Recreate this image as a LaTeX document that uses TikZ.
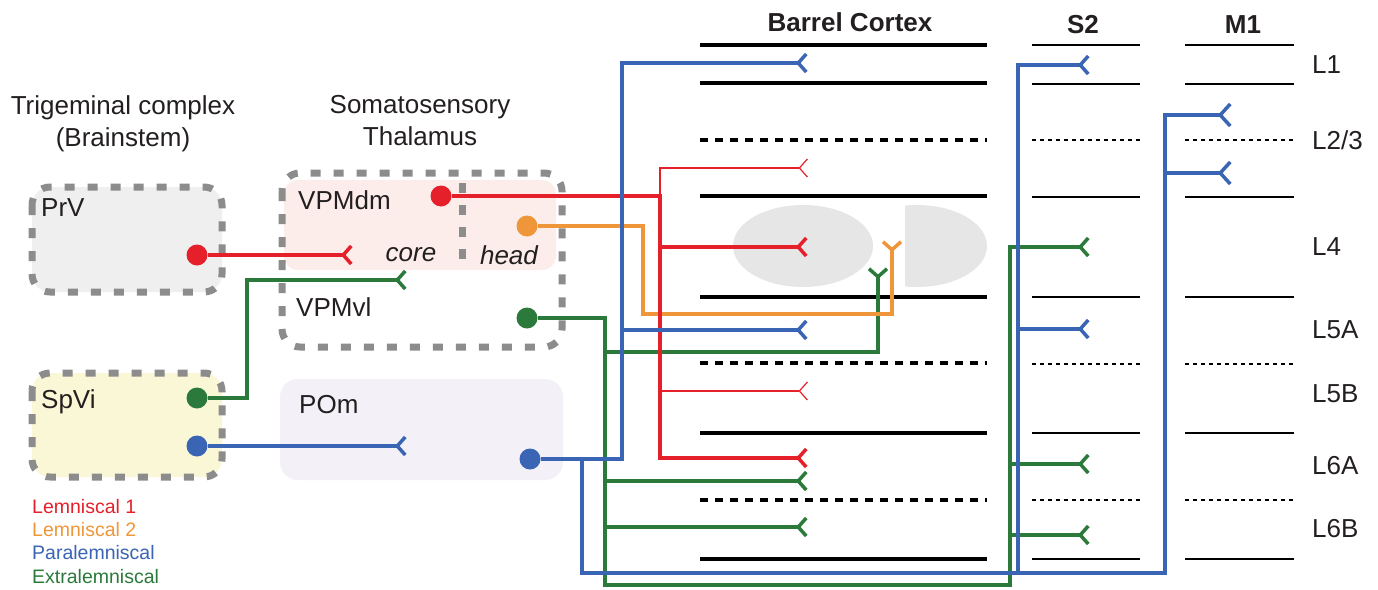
\documentclass[tikz,border=0pt]{standalone}
\usepackage{fontspec}
\setmainfont{Liberation Sans}
\usetikzlibrary{arrows.meta}
\definecolor{cred}{HTML}{E5202A}
\definecolor{corange}{HTML}{F0963A}
\definecolor{cblue}{HTML}{3A64B4}
\definecolor{cgreen}{HTML}{2B7A3B}
\definecolor{cborder}{HTML}{8C8C8C}
\definecolor{fprv}{HTML}{EFEFEF}
\definecolor{fspvi}{HTML}{FAF7D6}
\definecolor{fvpm}{HTML}{FCEDEB}
\definecolor{fpom}{HTML}{F3F1F7}
\definecolor{fbarrel}{HTML}{E6E6E6}
\definecolor{ctext}{HTML}{231F20}
\tikzset{
  lbl/.style={font=\fontsize{26}{32}\selectfont, inner sep=0pt, text=ctext},
  legend/.style={font=\fontsize{19.5}{22}\selectfont, inner sep=0pt, anchor=west},
  grpbox/.style={draw=cborder, line width=7pt, dash pattern=on 10pt off 13pt, rounded corners=18pt},
  axon/.style={line width=3.5pt},
  thinaxon/.style={line width=1.2pt},
  syn/.style={-{Straight Barb[reversed,length=8pt,width=18pt,line width=3.5pt]}},
  thinsyn/.style={-{Straight Barb[reversed,length=8pt,width=18pt,line width=1.2pt]}},
  synbig/.style={-{Straight Barb[reversed,length=10pt,width=22pt,line width=3.5pt]}},
  soma/.style={circle, minimum size=21pt, inner sep=0pt, fill=#1},
  layer/.style={line width=3.5pt},
  layerd/.style={line width=3.5pt, dash pattern=on 8pt off 7pt},
  slayer/.style={line width=2.2pt},
  slayerd/.style={line width=2.2pt, dash pattern=on 4pt off 4pt}
}
\begin{document}
\begin{tikzpicture}[x=1pt,y=-1pt]
\useasboundingbox[fill=white] (0,0) rectangle (1378,589);

% ---- group boxes ----
\fill[fprv, rounded corners=18pt] (32,187) rectangle (222,292);
\draw[grpbox] (32,187) rectangle (222,292);
\fill[fspvi, rounded corners=18pt] (32,373) rectangle (222,477);
\draw[grpbox] (32,373) rectangle (222,477);
\fill[fvpm, rounded corners=14pt] (284,180) rectangle (556,270);
\draw[grpbox] (282,173) rectangle (562,347);
\draw[draw=cborder, line width=7pt, dash pattern=on 10pt off 12pt] (462,183) -- (462,270);
\fill[fpom, rounded corners=18pt] (280,379) rectangle (563,480);

% ---- barrels ----
\fill[fbarrel] (803,246) ellipse [x radius=70pt, y radius=41pt];
\begin{scope}
  \clip (905,200) rectangle (990,292);
  \fill[fbarrel] (917,246) ellipse [x radius=70pt, y radius=41pt];
\end{scope}

% ---- layer lines ----
\foreach \y in {45,83,196,297,433,559} \draw[layer] (700,\y) -- (987,\y);
\foreach \y in {140,363,500} \draw[layerd] (700,\y) -- (987,\y);
\foreach \y in {45,84,197,297,433,559} {
  \draw[slayer] (1032,\y) -- (1140,\y);
  \draw[slayer] (1185,\y) -- (1294,\y);
}
\foreach \y in {140,364,500} {
  \draw[slayerd] (1032,\y) -- (1140,\y);
  \draw[slayerd] (1185,\y) -- (1294,\y);
}

% ---- texts ----
\node[lbl, align=center] (trig) at (123,124) {Trigeminal complex\\(Brainstem)};
\node[lbl, align=center] (thal) at (420,121) {Somatosensory\\Thalamus};
\node[lbl, font=\fontsize{26}{28}\selectfont\bfseries] (bc) at (850,22) {Barrel Cortex};
\node[lbl, font=\fontsize{26}{28}\selectfont\bfseries] (s2) at (1083,25) {S2};
\node[lbl, font=\fontsize{26}{28}\selectfont\bfseries] (m1) at (1243,25) {M1};
\node[lbl, anchor=west] (l1) at (1312,65) {L1};
\node[lbl, anchor=west] (l23) at (1312,140) {L2/3};
\node[lbl, anchor=west] (l4) at (1312,247) {L4};
\node[lbl, anchor=west] (l5a) at (1312,330) {L5A};
\node[lbl, anchor=west] (l5b) at (1312,394) {L5B};
\node[lbl, anchor=west] (l6a) at (1312,466) {L6A};
\node[lbl, anchor=west] (l6b) at (1312,529) {L6B};

\node[lbl, anchor=west] (prvl) at (41,208) {PrV};
\node[lbl, anchor=west] (spvil) at (41,402) {SpVi};
\node[lbl, anchor=west] (vpmdml) at (298,200) {VPMdm};
\node[lbl, anchor=west] (vpmvll) at (296,307) {VPMvl};
\node[lbl, anchor=west] (poml) at (299,405) {POm};
\node[lbl, font=\fontsize{26}{28}\selectfont\itshape] (core) at (411,255) {core};
\node[lbl, font=\fontsize{26}{28}\selectfont\itshape] (head) at (509,255) {head};

\node[legend, text=cred] (lg1) at (32,507) {Lemniscal 1};
\node[legend, text=corange] (lg2) at (32,530) {Lemniscal 2};
\node[legend, text=cblue] (lg3) at (32,553) {Paralemniscal};
\node[legend, text=cgreen] (lg4) at (32,577) {Extralemniscal};

% ---- somata ----
\node[soma=cred] (prv) at (197,255) {};
\node[soma=cgreen] (spvig) at (197,398) {};
\node[soma=cblue] (spvib) at (197,446) {};
\node[soma=cred] (vpmdm) at (441,196) {};
\node[soma=corange] (head2) at (527,226) {};
\node[soma=cgreen] (vpmvl) at (527,318) {};
\node[soma=cblue] (pom) at (530,459) {};

% ---- synapse targets ----
\coordinate (tvpm) at (353,255);
\coordinate (tvpmvl) at (407,280);
\coordinate (tpom) at (407,446);
\coordinate (r23) at (808,168);
\coordinate (r4) at (808,247);
\coordinate (r5b) at (808,391);
\coordinate (r6a) at (808,458);
\coordinate (o4) at (892,240);
\coordinate (g4) at (878,267);
\coordinate (g6a) at (808,481);
\coordinate (g6b) at (808,527);
\coordinate (gs4) at (1090,247);
\coordinate (gs6a) at (1090,464);
\coordinate (gs6b) at (1090,535);
\coordinate (b1) at (808,63);
\coordinate (b5a) at (808,330);
\coordinate (bs1) at (1090,65);
\coordinate (bs5a) at (1090,329);
\coordinate (bm23a) at (1232,115);
\coordinate (bm23b) at (1232,173);

% ---- connectors ----
% green (extralemniscal)
\draw[axon, cgreen, syn] (spvig) -- (247,398) |- (tvpmvl);
\draw[axon, cgreen, syn] (vpmvl) -- (605,318) |- (1010,585) |- (gs4);
\draw[axon, cgreen, syn] (605,352) -| (g4);
\draw[axon, cgreen, syn] (605,481) -- (g6a);
\draw[axon, cgreen, syn] (605,527) -- (g6b);
\draw[axon, cgreen, syn] (1010,464) -- (gs6a);
\draw[axon, cgreen, syn] (1010,535) -- (gs6b);
% orange (lemniscal 2)
\draw[axon, corange, syn] (head2) -- (643,226) |- (892,314) -- (o4);
% red (lemniscal 1)
\draw[axon, cred, syn] (prv) -- (tvpm);
\draw[axon, cred, syn] (vpmdm) -- (660,196) |- (r6a);
\draw[axon, cred, syn] (660,247) -- (r4);
\draw[thinaxon, cred, thinsyn] (660,197) |- (r23);
\draw[thinaxon, cred, thinsyn] (660,391) -- (r5b);
% blue (paralemniscal)
\draw[axon, cblue, syn] (spvib) -- (tpom);
\draw[axon, cblue, syn] (pom) -- (622,459) |- (b1);
\draw[axon, cblue, syn] (622,330) -- (b5a);
\draw[axon, cblue, synbig] (582,459) |- (1165,573) |- (bm23a);
\draw[axon, cblue, synbig] (1165,173) -- (bm23b);
\draw[axon, cblue, syn] (1018,573) |- (bs1);
\draw[axon, cblue, syn] (1018,329) -- (bs5a);
\end{tikzpicture}
\end{document}
